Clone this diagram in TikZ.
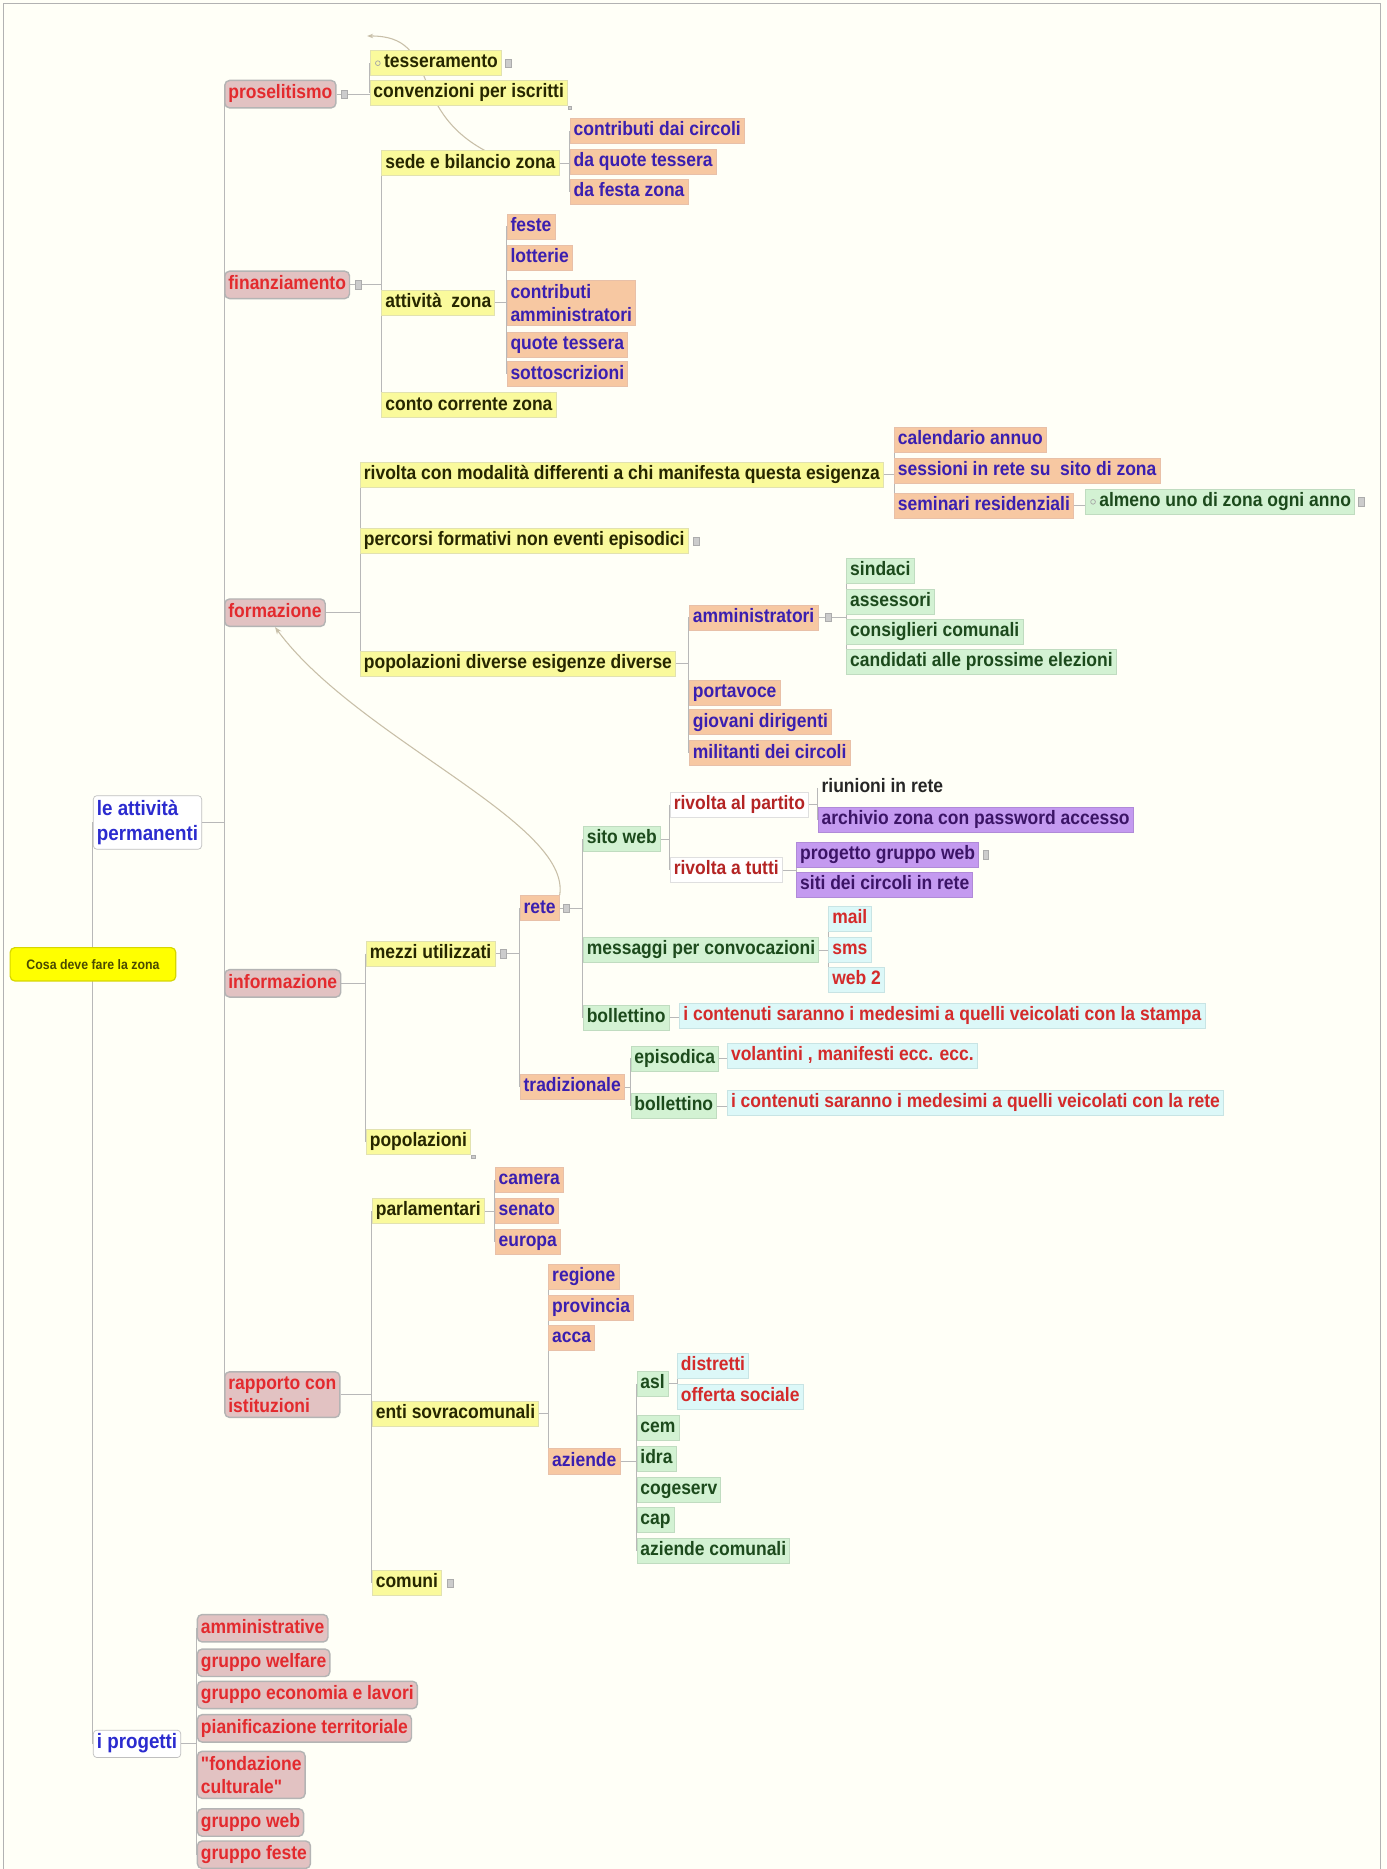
\documentclass[tikz,border=0pt]{standalone}
\usepackage{fontspec}
\newfontfamily\mmfont{Liberation Sans}[FakeStretch=0.9]
\usetikzlibrary{positioning,backgrounds,arrows.meta}

\definecolor{bgc}{HTML}{FFFFF7}
\definecolor{linkc}{HTML}{B8B8B8}
\definecolor{relc}{HTML}{C8BFA8}
\definecolor{pinkf}{HTML}{E2C2C2}
\definecolor{pinkd}{HTML}{B4B4B4}
\definecolor{redt}{HTML}{E32A2E}
\definecolor{bluet}{HTML}{2B2BCF}
\definecolor{yelf}{HTML}{FAFA9C}
\definecolor{yeld}{HTML}{E2E2B0}
\definecolor{yelt}{HTML}{262600}
\definecolor{peachf}{HTML}{F7C8A2}
\definecolor{peachd}{HTML}{E8C0A8}
\definecolor{peacht}{HTML}{3A1FB0}
\definecolor{grnf}{HTML}{D3F2D3}
\definecolor{grnd}{HTML}{C0DCC0}
\definecolor{grnt}{HTML}{1C4A1C}
\definecolor{cyaf}{HTML}{DCF8F8}
\definecolor{cyad}{HTML}{C8E4E4}
\definecolor{cyat}{HTML}{D42A2A}
\definecolor{lilf}{HTML}{C49AF0}
\definecolor{lild}{HTML}{B08AD8}
\definecolor{lilt}{HTML}{3B1466}
\definecolor{rootf}{HTML}{FFFF00}
\definecolor{rootd}{HTML}{D6D600}
\definecolor{roott}{HTML}{4A4A00}

\tikzset{
  base/.style={anchor=west, font=\mmfont\fontsize{16.3}{19.5}\selectfont\bfseries,
    inner xsep=3pt, inner ysep=3pt, text height=11.5pt, text depth=3.5pt, line width=0.6pt},
  multi/.style={text height=, text depth=, align=left},
  topic/.style={base, rounded corners=4pt, fill=pinkf, draw=pinkd, line width=1.2pt, text=redt, inner ysep=4pt},
  branch/.style={base, rounded corners=3pt, fill=white, draw=gray!50, text=bluet, inner ysep=4pt,
    font=\mmfont\fontsize{17.5}{20.5}\selectfont\bfseries},
  yel/.style={base, fill=yelf, draw=yeld, text=yelt},
  peach/.style={base, fill=peachf, draw=peachd, text=peacht},
  grn/.style={base, fill=grnf, draw=grnd, text=grnt},
  cya/.style={base, fill=cyaf, draw=cyad, text=cyat},
  lil/.style={base, fill=lilf, draw=lild, text=lilt},
  pale/.style={base, fill=white, draw=gray!25, text=cyat!85!black},
  plain/.style={base, text=black!85},
  root/.style={rounded corners=4pt, fill=rootf, draw=rootd, line width=1pt, text=roott,
    font=\mmfont\fontsize{11.5}{13}\selectfont\bfseries, minimum width=139pt, minimum height=28pt},
  link/.style={draw=linkc, line width=0.8pt},
  rel/.style={draw=relc, line width=0.9pt},
  note/.style={rectangle, fill=gray!40, draw=gray!65, minimum width=5pt, minimum height=7pt, inner sep=0pt},
  lens/.style={circle, draw=gray!70, line width=0.6pt, minimum size=4pt, inner sep=0pt}
}

\begin{document}
\begin{tikzpicture}[x=1pt,y=-1pt]
\useasboundingbox (0,0) rectangle (1163,1568);

% centro e rami principali
\node[root] (root) at (78,809) {Cosa deve fare la zona};
\node[branch,multi] (perm) at (78,690) {le attività\\permanenti};
\node[branch] (prog) at (78,1463) {i progetti};

\node[topic] (pros) at (188,79) {proselitismo};
\node[topic] (fin) at (188,239) {finanziamento};
\node[topic] (form) at (188,514) {formazione};
\node[topic] (info) at (188,825) {informazione};
\node[topic,multi] (rapp) at (188,1170) {rapporto con\\istituzioni};

% proselitismo
\node[yel] (tess) at (310,53) {\hspace*{9pt}tesseramento};
\node[yel] (conv) at (310,78) {convenzioni per iscritti};

% finanziamento
\node[yel] (sede) at (320,137) {sede e bilancio zona};
\node[yel] (att) at (320,254) {attività~~zona};
\node[yel] (conto) at (320,340) {conto corrente zona};
\node[peach] (cdc) at (478,110) {contributi dai circoli};
\node[peach] (dqt) at (478,136) {da quote tessera};
\node[peach] (dfz) at (478,161) {da festa zona};
\node[peach] (feste) at (425,190) {feste};
\node[peach] (lott) at (425,216) {lotterie};
\node[peach,multi] (camm) at (425,254) {contributi\\amministratori};
\node[peach] (qt) at (425,289) {quote tessera};
\node[peach] (sott) at (425,314) {sottoscrizioni};

% formazione
\node[yel] (riv) at (302,398) {rivolta con modalità differenti a chi manifesta questa esigenza};
\node[yel] (perc) at (302,454) {percorsi formativi non eventi episodici};
\node[yel] (popd) at (302,557) {popolazioni diverse esigenze diverse};
\node[peach] (cal) at (750,369) {calendario annuo};
\node[peach] (sess) at (750,395) {sessioni in rete su~~sito di zona};
\node[peach] (sem) at (750,424) {seminari residenziali};
\node[grn] (alm) at (910,421) {\hspace*{9pt}almeno uno di zona ogni anno};
\node[peach] (amm) at (578,518) {amministratori};
\node[grn] (sind) at (710,479) {sindaci};
\node[grn] (ass) at (710,505) {assessori};
\node[grn] (cons) at (710,530) {consiglieri comunali};
\node[grn] (cand) at (710,555) {candidati alle prossime elezioni};
\node[peach] (port) at (578,581) {portavoce};
\node[peach] (giov) at (578,606) {giovani dirigenti};
\node[peach] (mil) at (578,632) {militanti dei circoli};

% informazione
\node[yel] (mezzi) at (307,800) {mezzi utilizzati};
\node[yel] (popi) at (307,958) {popolazioni};
\node[peach] (rete) at (436,762) {rete};
\node[peach] (trad) at (436,912) {tradizionale};
\node[grn] (sito) at (489,704) {sito web};
\node[grn] (mess) at (489,797) {messaggi per convocazioni};
\node[grn] (boll) at (489,854) {bollettino};
\node[pale] (rap) at (562,675) {rivolta al partito};
\node[pale] (rat) at (562,730) {rivolta a tutti};
\node[plain] (riun) at (686,661) {riunioni in rete};
\node[lil] (arch) at (686,688) {archivio zona con password accesso};
\node[lil] (pgw) at (668,717) {progetto gruppo web};
\node[lil] (siti) at (668,742) {siti dei circoli in rete};
\node[cya] (mail) at (695,771) {mail};
\node[cya] (sms) at (695,797) {sms};
\node[cya] (web2) at (695,822) {web 2};
\node[cya] (stampa) at (570,852) {i contenuti saranno i medesimi a quelli veicolati con la stampa};
\node[grn] (epi) at (529,888) {episodica};
\node[grn] (boll2) at (529,928) {bollettino};
\node[cya] (vol) at (610,886) {volantini , manifesti ecc. ecc.};
\node[cya] (cret) at (610,925) {i contenuti saranno i medesimi a quelli veicolati con la rete};

% rapporto con istituzioni
\node[yel] (parl) at (312,1016) {parlamentari};
\node[yel] (enti) at (312,1186) {enti sovracomunali};
\node[yel] (comuni) at (312,1328) {comuni};
\node[peach] (cam) at (415,990) {camera};
\node[peach] (sen) at (415,1016) {senato};
\node[peach] (eur) at (415,1042) {europa};
\node[peach] (reg) at (460,1071) {regione};
\node[peach] (prov) at (460,1097) {provincia};
\node[peach] (acca) at (460,1122) {acca};
\node[peach] (az) at (460,1226) {aziende};
\node[grn] (asl) at (534,1161) {asl};
\node[grn] (cem) at (534,1198) {cem};
\node[grn] (idra) at (534,1224) {idra};
\node[grn] (coge) at (534,1250) {cogeserv};
\node[grn] (cap) at (534,1275) {cap};
\node[grn] (azc) at (534,1301) {aziende comunali};
\node[cya] (distr) at (568,1146) {distretti};
\node[cya] (off) at (568,1172) {offerta sociale};

% i progetti
\node[topic] (p1) at (165,1366) {amministrative};
\node[topic] (p2) at (165,1395) {gruppo welfare};
\node[topic] (p3) at (165,1422) {gruppo economia e lavori};
\node[topic] (p4) at (165,1450) {pianificazione territoriale};
\node[topic,multi] (p5) at (165,1489) {"fondazione\\culturale"};
\node[topic] (p6) at (165,1529) {gruppo web};
\node[topic] (p7) at (165,1556) {gruppo feste};

% icone note
\node[note, right=4pt of pros] (prosnt) {};
\node[note, right=3pt of tess] (tessnt) {};
\node[note, minimum width=3pt, minimum height=3pt, anchor=north west] (convnt) at (conv.south east) {};
\node[note, right=4pt of fin] (finnt) {};
\node[note, right=4pt of perc] (percnt) {};
\node[note, right=3pt of alm] (almnt) {};
\node[note, right=6pt of amm] (ammnt) {};
\node[note, right=3pt of rete] (retent) {};
\node[note, right=4pt of mezzi] (mezzint) {};
\node[note, right=3pt of pgw] (pgwnt) {};
\node[note, minimum width=3pt, minimum height=3pt, anchor=north west] (popint) at (popi.south east) {};
\node[note, right=4pt of comuni] (comunint) {};
\node[lens] (tesslens) at ([xshift=7pt]tess.west) {};
\node[lens] (almlens) at ([xshift=7pt]alm.west) {};

\begin{scope}[on background layer]
  \fill[bgc] (0,0) rectangle (1163,1568);
  \draw[gray!60, line width=1.2pt] (3,1568) -- (3,3) -- (1158,3) -- (1158,1568);
  % rami
  \draw[link] (perm.west) -- (prog.west);
  \draw[link] (perm.east) -- (perm.east -| pros.west);
  \draw[link] (pros.west) -- (rapp.west);
  \draw[link] (pros.east) -- (pros.east -| tess.west);
  \draw[link] (tess.west) -- (conv.west);
  \draw[link] (fin.east) -- (fin.east -| sede.west);
  \draw[link] (sede.west) -- (conto.west);
  \draw[link] (sede.east) -- (sede.east -| cdc.west);
  \draw[link] (cdc.west) -- (dfz.west);
  \draw[link] (att.east) -- (att.east -| feste.west);
  \draw[link] (feste.west) -- (sott.west);
  \draw[link] (form.east) -- (form.east -| riv.west);
  \draw[link] (riv.west) -- (popd.west);
  \draw[link] (riv.east) -- (riv.east -| cal.west);
  \draw[link] (cal.west) -- (sem.west);
  \draw[link] (sem.east) -- (sem.east -| alm.west);
  \draw[link] (popd.east) -- (popd.east -| amm.west);
  \draw[link] (amm.west) -- (mil.west);
  \draw[link] (amm.east) -- (amm.east -| sind.west);
  \draw[link] (sind.west) -- (cand.west);
  \draw[link] (info.east) -- (info.east -| mezzi.west);
  \draw[link] (mezzi.west) -- (popi.west);
  \draw[link] (mezzi.east) -- (mezzi.east -| rete.west);
  \draw[link] (rete.west) -- (trad.west);
  \draw[link] (rete.east) -- (rete.east -| sito.west);
  \draw[link] (sito.west) -- (boll.west);
  \draw[link] (sito.east) -- (sito.east -| rap.west);
  \draw[link] (rap.west) -- (rat.west);
  \draw[link] (rap.east) -- (rap.east -| riun.west);
  \draw[link] (riun.west) -- (arch.west);
  \draw[link] (rat.east) -- (rat.east -| pgw.west);
  \draw[link] (pgw.west) -- (siti.west);
  \draw[link] (mess.east) -- (mess.east -| mail.west);
  \draw[link] (mail.west) -- (web2.west);
  \draw[link] (boll.east) -- (boll.east -| stampa.west);
  \draw[link] (trad.east) -- (trad.east -| epi.west);
  \draw[link] (epi.west) -- (boll2.west);
  \draw[link] (epi.east) -- (epi.east -| vol.west);
  \draw[link] (boll2.east) -- (boll2.east -| cret.west);
  \draw[link] (rapp.east) -- (rapp.east -| parl.west);
  \draw[link] (parl.west) -- (comuni.west);
  \draw[link] (parl.east) -- (parl.east -| cam.west);
  \draw[link] (cam.west) -- (eur.west);
  \draw[link] (enti.east) -- (enti.east -| reg.west);
  \draw[link] (reg.west) -- (az.west);
  \draw[link] (az.east) -- (az.east -| asl.west);
  \draw[link] (asl.west) -- (azc.west);
  \draw[link] (asl.east) -- (asl.east -| distr.west);
  \draw[link] (distr.west) -- (off.west);
  \draw[link] (prog.east) -- (prog.east -| p1.west);
  \draw[link] (p1.west) -- (p7.west);
  % relazioni
  \draw[rel,-{Stealth[length=5pt]}] ([xshift=12pt]sede.north) .. controls (340,90) and (370,30) .. ([shift={(-2pt,12pt)}]tess.north west);
  \draw[rel,-{Stealth[length=6pt]}] (rete.north east) .. controls (480,690) and (300,620) .. (form.south);
\end{scope}
\end{tikzpicture}
\end{document}
